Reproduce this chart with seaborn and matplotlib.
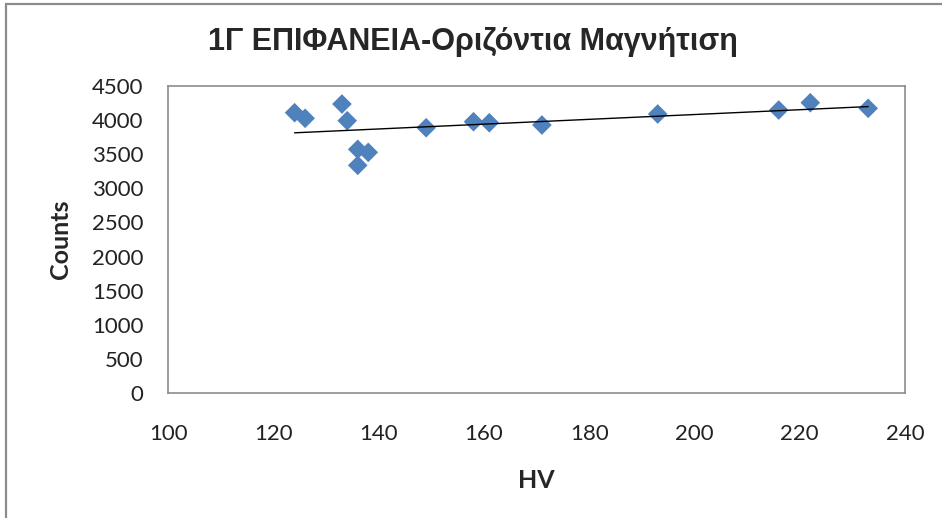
import numpy as np
import pandas as pd
import matplotlib
matplotlib.use("Agg")
import matplotlib.pyplot as plt
from matplotlib.patches import Rectangle
import seaborn as sns

# Measurements: high voltage setting vs. recorded counts
hv = [124, 126, 133, 134, 136, 138, 136, 149, 158, 161, 171, 193, 216, 222, 233]
counts = [4105, 4023, 4232, 3988, 3569, 3525, 3335, 3885, 3973, 3958, 3925, 4086, 4144, 4251, 4169]

title = "1Γ ΕΠΙΦΑΝΕΙΑ-Οριζόντια Μαγνήτιση"
x_label = "HV"
y_label = "Counts"
x_ticks = [100, 120, 140, 160, 180, 200, 220, 240]
y_ticks = [0, 500, 1000, 1500, 2000, 2500, 3000, 3500, 4000, 4500]

df = pd.DataFrame({"HV": hv, "Counts": counts})

sns.set_theme(style="white")
plt.rcParams["font.family"] = ["Liberation Sans", "DejaVu Sans"]

W, H = 942, 518
fig = plt.figure(figsize=(W / 100, H / 100), dpi=100)
fig.patch.set_facecolor("white")

# outer chart frame
fig.add_artist(Rectangle((6 / W, -0.05), 1.1, 1.05 - 4 / H, transform=fig.transFigure,
                         fill=False, edgecolor="#8c8c8c", linewidth=1.6))

ax = fig.add_axes([168.3 / W, 1 - 393.3 / H, (905 - 168.3) / W, (393.3 - 85.7) / H])

sns.regplot(data=df, x="HV", y="Counts", ax=ax, ci=None, marker="D",
            scatter_kws={"color": "#4F81BD", "s": 100, "edgecolors": "none", "alpha": 1},
            line_kws={"color": "black", "linewidth": 1.0})

ax.set_xlim(100, 240)
ax.set_ylim(0, 4500)
ax.set_xticks(x_ticks)
ax.set_yticks(y_ticks)
tick_font = {"family": ["Lato", "DejaVu Sans"], "size": 16}
ax.set_xticklabels([str(t) for t in x_ticks], fontdict=tick_font, color="#222222")
ax.set_yticklabels([str(t) for t in y_ticks], fontdict=tick_font, color="#222222")
ax.tick_params(axis="x", length=0, pad=22)
ax.tick_params(axis="y", length=0, pad=18)

for s in ax.spines.values():
    s.set_visible(True)
    s.set_color("#8c8c8c")
    s.set_linewidth(1.2)

ax.set_xlabel(x_label, fontsize=18, fontweight="bold", family=["Lato", "DejaVu Sans"], labelpad=18)
ax.set_ylabel(y_label, fontsize=18, fontweight="bold", family=["Lato", "DejaVu Sans"], labelpad=14)

fig.text(473 / W, 1 - 42 / H, title, ha="center", va="center", fontsize=22,
         fontweight="bold", family=["Liberation Sans", "DejaVu Sans"])

fig.savefig("out.png", dpi=100, facecolor="white")
